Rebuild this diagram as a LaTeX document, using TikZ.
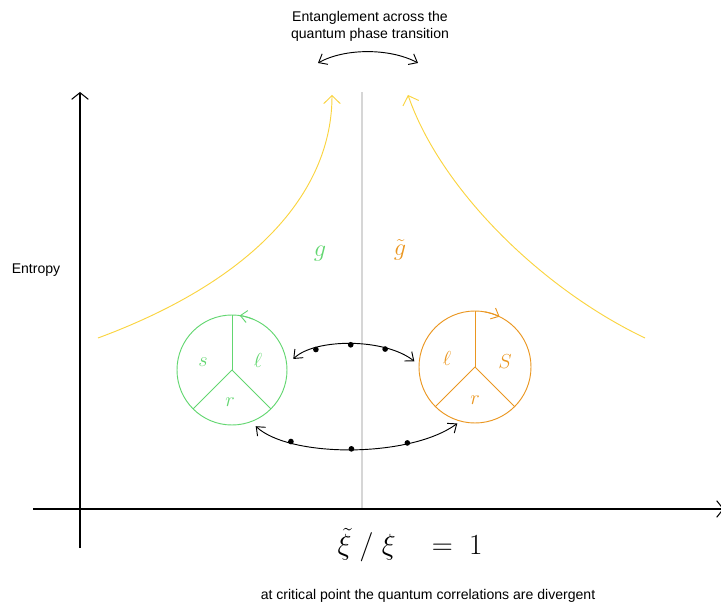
\documentclass[tikz,border=0pt]{standalone}
\usepackage[no-math]{fontspec}
\setmainfont{Liberation Sans}
\usetikzlibrary{arrows.meta}

\definecolor{ringgreen}{RGB}{98,214,112}
\definecolor{ringorange}{RGB}{234,150,32}
\definecolor{flowyellow}{RGB}{250,212,64}
\definecolor{guidegray}{RGB}{214,214,214}

\begin{document}
\begin{tikzpicture}[
  x=0.03cm, y=0.03cm,
  font=\fontsize{12}{14.5}\selectfont,
  axis/.style={line width=0.9pt, draw=black, -{Straight Barb[length=2mm, width=5mm]}},
  guide/.style={line width=0.9pt, draw=guidegray},
  flow/.style={line width=0.8pt, draw=flowyellow, -{Straight Barb[length=2.4mm, width=5mm]}},
  ring/.style={circle, draw=#1, line width=0.8pt, inner sep=0pt, outer sep=0pt},
  spoke/.style={line width=0.8pt, draw=#1},
  ringtip/.style={line width=0.8pt, draw=#1, -{Straight Barb[length=2mm, width=3.6mm]}},
  letter/.style={text=#1, font=\fontsize{16}{16}\selectfont},
  coupling/.style={text=#1, font=\fontsize{22}{22}\selectfont},
  link/.style={line width=0.8pt, draw=black,
    {Straight Barb[length=2.2mm, width=3.6mm]}-{Straight Barb[length=2.2mm, width=3.6mm]}},
  dot/.style={circle, fill=black, inner sep=0pt, minimum size=1.7mm}
]
\useasboundingbox (0,0) rectangle (721,608);

% axes and critical line
\coordinate (xfrom) at (33,99);
\coordinate (xto) at (724,99);
\coordinate (yfrom) at (80,60);
\coordinate (yto) at (80,516);
\coordinate (critlow) at (362,99);
\coordinate (crittop) at (362,516);
\draw[guide] (critlow) -- (crittop);
\draw[axis] (xfrom) -- (xto);
\draw[axis] (yfrom) -- (yto);

\node (entropy) at (36,338) {Entropy};
\node[align=center] (title) at (370,582) {Entanglement across the\\quantum phase transition};
\node (critical) at (428,12) {at critical point the quantum correlations are divergent};
\node[font=\fontsize{24}{24}\selectfont] (ratio) at (410,63) {$\tilde{\xi}\;/\;\xi\quad=\;1$};

% divergent curves
\coordinate (gfrom) at (98,270);
\coordinate (gto) at (332,513);
\coordinate (hfrom) at (645,270);
\coordinate (hto) at (408,513);
\draw[flow] (gfrom) .. controls (260,330) and (332,420) .. (gto);
\draw[flow] (hfrom) .. controls (540,320) and (440,420) .. (hto);

\node[coupling=ringgreen] (gsym) at (320,354) {$g$};
\node[coupling=ringorange] (gtilde) at (400,358) {$\tilde{g}$};

% the two rings
\node[ring=ringgreen, minimum size=3.3cm] (gring) at (232,238) {};
\node[ring=ringorange, minimum size=3.36cm] (oring) at (475,241) {};
\foreach \a in {90,225,315} {
  \draw[spoke=ringgreen] (gring.center) -- (gring.\a);
  \draw[spoke=ringorange] (oring.center) -- (oring.\a);
}
\draw[ringtip=ringgreen] (gring.68) arc[start angle=68, end angle=82, radius=55];
\draw[ringtip=ringorange] (oring.80) arc[start angle=80, end angle=64, radius=56];

\node[letter=ringgreen] (gs) at ([shift={(-29,8)}]gring.center) {$s$};
\node[letter=ringgreen] (gl) at ([shift={(26,10)}]gring.center) {$\ell$};
\node[letter=ringgreen] (gr) at ([shift={(-2,-32)}]gring.center) {$r$};
\node[letter=ringorange] (ol) at ([shift={(-28,9)}]oring.center) {$\ell$};
\node[letter=ringorange] (os) at ([shift={(30,5)}]oring.center) {$S$};
\node[letter=ringorange] (or) at ([shift={(0,-33)}]oring.center) {$r$};

% exchange between the phases
\draw[link, shorten <=2.7mm, shorten >=1.8mm] (gring.5) .. controls (315,270) and (385,270) .. (oring.178)
  node[dot, pos=0.26] {} node[dot, pos=0.5] {} node[dot, pos=0.73] {};
\draw[link, shorten <=2mm, shorten >=1.2mm] (gring.-70) .. controls (290,150) and (410,150) .. (oring.255)
  node[dot, pos=0.24] {} node[dot, pos=0.5] {} node[dot, pos=0.73] {};

\coordinate (tleft) at (318,545);
\coordinate (tright) at (418,545);
\draw[link] (tleft) .. controls (345,560) and (390,560) .. (tright);

\end{tikzpicture}
\end{document}
